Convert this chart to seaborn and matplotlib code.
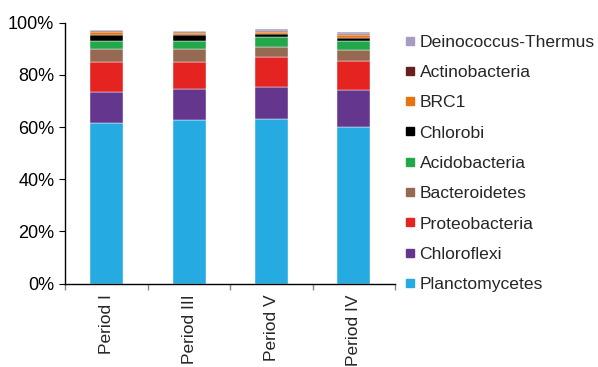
import numpy as np
import pandas as pd
import seaborn as sns
import matplotlib.pyplot as plt
from matplotlib.lines import Line2D

periods = ['Period I', 'Period III', 'Period V', 'Period IV']
phyla = ['Planctomycetes', 'Chloroflexi', 'Proteobacteria', 'Bacteroidetes',
         'Acidobacteria', 'Chlorobi', 'BRC1', 'Actinobacteria', 'Deinococcus-Thermus']

# relative abundance (%) per period
planctomycetes = [61.4, 62.6, 63.2, 60.1]
chloroflexi = [12.1, 11.9, 12.1, 14.2]
proteobacteria = [11.5, 10.3, 11.4, 11.0]
bacteroidetes = [4.8, 5.0, 4.1, 4.3]
acidobacteria = [3.2, 3.3, 3.6, 3.4]
chlorobi = [2.4, 2.1, 1.4, 1.1]
brc1 = [0.9, 0.7, 0.7, 1.2]
actinobacteria = [0.4, 0.4, 0.4, 0.4]
deinococcus = [0.4, 0.6, 0.6, 0.6]

colors = ['#25ABE2', '#65368E', '#E52421', '#956952', '#22A84A',
          '#000000', '#E7730F', '#6A1F1E', '#A99CC4']

series = [planctomycetes, chloroflexi, proteobacteria, bacteroidetes,
          acidobacteria, chlorobi, brc1, actinobacteria, deinococcus]

sns.set_style('ticks')
plt.rcParams['font.family'] = ['Liberation Sans', 'DejaVu Sans']

fig = plt.figure(figsize=(5.98, 3.67), dpi=100)
ax = fig.add_axes([0.1095, 0.2275, 0.551, 0.7105])

bottom = np.zeros(len(periods))
for name, vals, col in zip(phyla, series, colors):
    df = pd.DataFrame({'Period': periods, 'Value': vals})
    sns.barplot(data=df, x='Period', y='Value', color=col, width=0.4,
                bottom=bottom, ax=ax, saturation=1, edgecolor='white',
                linewidth=0.3, errorbar=None)
    bottom = bottom + np.array(vals)

ax.set_xlim(-0.5, 3.5)
ax.set_ylim(0, 100)
ax.set_yticks(np.arange(0, 101, 20))
ax.set_yticklabels(['%d%%' % v for v in range(0, 101, 20)], fontsize=13)
ax.set_xticks(range(len(periods)))
ax.set_xticklabels(periods, rotation=90, fontsize=12.5)
ax.set_xticks(np.arange(-0.5, 4, 1), minor=True)
ax.tick_params(axis='x', which='major', length=0, pad=8)
ax.tick_params(axis='x', which='minor', length=4, color='#888888', width=1)
ax.tick_params(axis='y', length=4, pad=4, colors='black')
ax.set_xlabel('')
ax.set_ylabel('')
for s in ['top', 'right']:
    ax.spines[s].set_visible(False)
for s in ['left', 'bottom']:
    ax.spines[s].set_color('black')
    ax.spines[s].set_linewidth(1)

handles = [Line2D([], [], marker='s', linestyle='', color=c, markersize=5.5)
           for c in colors[::-1]]
fig.legend(handles, phyla[::-1], loc='upper left', bbox_to_anchor=(0.650, 0.949),
           frameon=False, fontsize=12.6, handlelength=0.6, handletextpad=0.26,
           labelspacing=0.86)

fig.savefig('out.png', dpi=100)
